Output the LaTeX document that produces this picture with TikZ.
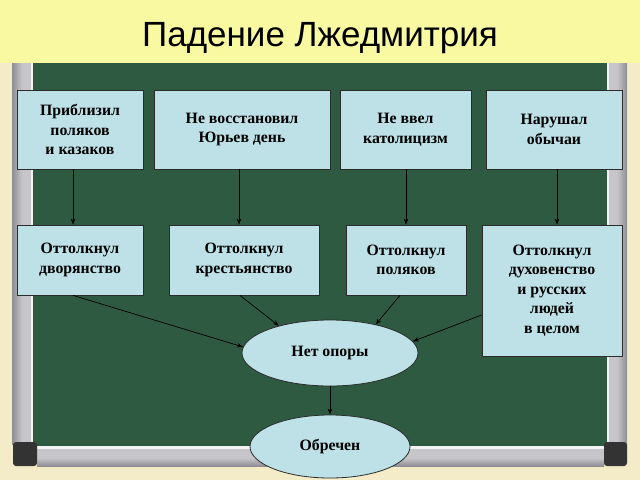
\documentclass[tikz,border=0pt]{standalone}
\usepackage{fontspec}
\setmainfont{Liberation Serif}
\newfontfamily\titlefont{Liberation Sans}
\usetikzlibrary{shapes.geometric,arrows.meta}
\definecolor{bgc}{HTML}{F4ECC9}
\definecolor{titlec}{HTML}{F9F9A2}
\definecolor{boardc}{HTML}{2F5A42}
\definecolor{framec}{HTML}{C6C6CA}
\definecolor{framedark}{HTML}{8E8E92}
\definecolor{framelight}{HTML}{F2F2F2}
\definecolor{cornerc}{HTML}{333333}
\definecolor{boxfill}{HTML}{BDE1E6}
\definecolor{boxline}{HTML}{2B2B2B}
\begin{document}
\begin{tikzpicture}[x=1pt,y=-1pt,
  box/.style={draw=boxline, fill=boxfill, line width=0.8pt, align=center,
    font=\bfseries\fontsize{15.8}{19.5}\selectfont, inner sep=0pt},
  oval/.style={ellipse, draw=boxline, fill=boxfill, line width=0.8pt, align=center,
    font=\bfseries\fontsize{15.8}{19.5}\selectfont, inner sep=0pt},
  arr/.style={-{Stealth[length=6pt,width=4.5pt]}, line width=0.7pt, black}]
\useasboundingbox (0,0) rectangle (640,480);
% background
\fill[bgc] (0,0) rectangle (640,480);
\fill[titlec] (0,0) rectangle (640,63);
% frame sides
\shade[left color=framedark, right color=framec] (12,63) rectangle (22,444);
\fill[framec] (22,63) rectangle (31,444);
\fill[framelight] (31,63) rectangle (33,444);
\shade[left color=framec, right color=framedark] (617,63) rectangle (627,444);
\fill[framec] (609,63) rectangle (617,444);
\fill[framelight] (607,63) rectangle (609,444);
\fill[boardc] (33,63) rectangle (607,446);
% bottom bar
\fill[framec] (37,446) rectangle (604,466);
\fill[framelight] (37,446) rectangle (604,448.5);
\shade[top color=framec, bottom color=framedark] (37,458) rectangle (604,466);
\fill[cornerc, rounded corners=3pt] (13,442) rectangle (37,466);
\fill[cornerc, rounded corners=3pt] (604,442) rectangle (627,466);
% title
\node[font=\titlefont\fontsize{35}{40}\selectfont, anchor=base] (title) at (320,46) {Падение Лжедмитрия};
% top row
\node[box, minimum width=126pt, minimum height=79pt] (b1) at (80,129.5) {Приблизил\\поляков\\и казаков};
\node[box, minimum width=176pt, minimum height=79pt] (b2) at (242,129.5) {Не восстановил\\Юрьев день};
\node[box, minimum width=131pt, minimum height=79pt] (b3) at (405.5,129.5) {Не ввел\\католицизм};
\node[box, minimum width=136pt, minimum height=79pt] (b4) at (554,129.5) {Нарушал\\обычаи};
% second row
\node[box, minimum width=126pt, minimum height=70pt] (c1) at (80,260) {Оттолкнул\\дворянство};
\node[box, minimum width=150pt, minimum height=70pt] (c2) at (244,260) {Оттолкнул\\крестьянство};
\node[box, minimum width=120pt, minimum height=70pt] (c3) at (406,260) {Оттолкнул\\поляков};
\node[box, minimum width=140pt, minimum height=131pt] (c4) at (552,290.5) {Оттолкнул\\духовенство\\и русских\\людей\\в целом};
% ovals
\node[oval, minimum width=176pt, minimum height=66pt] (e1) at (330,353) {Нет опоры};
\node[oval, minimum width=160pt, minimum height=63pt] (e2) at (330,446.5) {Обречен};
% connectors
\draw[arr] ([xshift=-7pt]b1.south) -- ([xshift=-7pt]c1.north);
\draw[arr] ([xshift=-3pt]b2.south) -- ([xshift=-5pt]c2.north);
\draw[arr] ([xshift=0.5pt]b3.south) -- ([xshift=0pt]c3.north);
\draw[arr] ([xshift=3pt]b4.south) -- ([xshift=5pt]c4.north);
\draw[arr] ([xshift=-7pt]c1.south) -- (e1.176);
\draw[arr] ([xshift=-4pt]c2.south) -- (e1.152);
\draw[arr] ([xshift=-6pt]c3.south) -- (e1.32);
\draw[arr] ([yshift=-24.5pt]c4.west) -- (e1.8);
\draw[arr] (e1.south) -- (e2.north);
\end{tikzpicture}
\end{document}
